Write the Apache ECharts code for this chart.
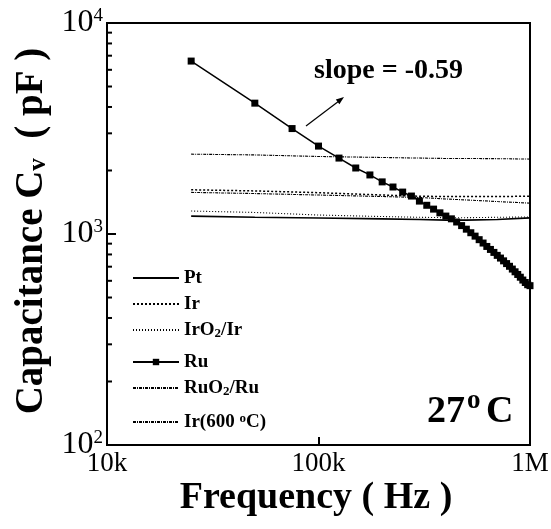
<!DOCTYPE html>
<html><head><meta charset="utf-8">
<script src="https://cdn.jsdelivr.net/npm/echarts/dist/echarts.min.js"></script>
<style>html,body{margin:0;padding:0;background:#fff}#c{width:551px;height:529px}</style>
</head><body><div id="c"></div>
<script>
// ---- data ----
const seriesNames = ['Pt', 'Ir', 'IrO2/Ir', 'Ru', 'RuO2/Ru', 'Ir(600 oC)'];
const flatFreq = [25000, 50000, 100000, 200000, 300000, 400000, 500000, 700000, 1000000];
const ptValues    = [1216, 1200, 1190, 1180, 1172, 1164, 1164, 1172, 1192];
const irValues    = [1620, 1600, 1570, 1530, 1510, 1505, 1505, 1505, 1510];
const iro2Values  = [1285, 1265, 1230, 1210, 1200, 1195, 1195, 1200, 1205];
const ruo2Values  = [1575, 1555, 1530, 1505, 1490, 1465, 1450, 1425, 1400];
const ir600Values = [2390, 2370, 2330, 2305, 2290, 2280, 2280, 2275, 2265];
const ruFreq = [25000, 50000, 75000, 100000, 125000, 150000, 175000, 200000, 225000, 250000,
  275000, 300000, 325000, 350000, 375000, 400000, 425000, 450000, 475000, 500000,
  525000, 550000, 575000, 600000, 625000, 650000, 675000, 700000, 725000, 750000,
  775000, 800000, 825000, 850000, 875000, 900000, 925000, 950000, 975000, 1000000];
const ruValues = [6600, 4170, 3160, 2610, 2290, 2055, 1905, 1766, 1670, 1580,
  1513, 1432, 1368, 1312, 1260, 1216, 1180, 1140, 1096, 1054,
  1014, 977, 940, 906, 873, 845, 818, 792, 769, 746,
  724, 703, 682, 662, 643, 624, 605, 589, 575, 569];
const xTickLabels = { 10000: '10k', 100000: '100k', 1000000: '1M' };
const yMinorTicks = [200, 300, 400, 500, 600, 700, 800, 900, 2000, 3000, 4000, 5000, 6000, 7000, 8000, 9000];
const legendLabels = {
  'Pt': 'Pt', 'Ir': 'Ir', 'IrO2/Ir': 'IrO{sub|2}/Ir', 'Ru': 'Ru',
  'RuO2/Ru': 'RuO{sub|2}/Ru', 'Ir(600 oC)': 'Ir(600 {sup|o}C)'
};
// ---- layout ----
const SERIF = 'Liberation Serif, Times New Roman, serif';
const legendRowY = [278, 304, 330, 362, 388, 422];

const chart = echarts.init(document.getElementById('c'), null, { renderer: 'canvas' });
const zip = (xs, ys) => xs.map((x, i) => [x, ys[i]]);
const lineSeries = (name, xs, ys, type, width) => ({
  name, type: 'line', data: zip(xs, ys), symbol: 'none', smooth: false,
  lineStyle: { color: '#000', width, type }, itemStyle: { color: '#000' }, z: 3
});

const richLegend = {
  sub: { fontFamily: SERIF, fontWeight: 'bold', fontSize: 13, verticalAlign: 'bottom', lineHeight: 6, color: '#000' },
  sup: { fontFamily: SERIF, fontWeight: 'bold', fontSize: 13, verticalAlign: 'top', lineHeight: 6, color: '#000' }
};

const option = {
  animation: false,
  backgroundColor: '#fff',
  grid: { left: 107, right: 21, top: 23, bottom: 84, show: true, borderColor: '#000', borderWidth: 2, containLabel: false, outerBoundsMode: 'none' },
  xAxis: {
    type: 'log', logBase: 10, min: 10000, max: 1000000,
    axisLine: { show: true, lineStyle: { color: '#000', width: 2 } },
    axisTick: { show: true, inside: true, length: 8, lineStyle: { color: '#000', width: 2 } },
    minorTick: { show: false }, splitLine: { show: false },
    axisLabel: { show: true, showMinLabel: true, showMaxLabel: true, margin: 5, color: '#000', fontFamily: SERIF, fontSize: 27,
      formatter: v => xTickLabels[Math.round(v)] || '' }
  },
  yAxis: {
    type: 'log', logBase: 10, min: 100, max: 10000,
    axisLine: { show: true, lineStyle: { color: '#000', width: 2 } },
    axisTick: { show: true, inside: true, length: 9, lineStyle: { color: '#000', width: 2 } },
    minorTick: { show: false }, splitLine: { show: false },
    axisLabel: { show: true, showMinLabel: true, showMaxLabel: true, margin: 4, color: '#000',
      formatter: v => '{b|10}{s|' + Math.round(Math.log10(v)) + '}',
      rich: {
        b: { fontFamily: SERIF, fontSize: 32, lineHeight: 32, color: '#000' },
        s: { fontFamily: SERIF, fontSize: 19, lineHeight: 22, verticalAlign: 'top', color: '#000' }
      } }
  },
  legend: seriesNames.map((n, i) => ({
    data: [n], orient: 'vertical', left: 132, top: legendRowY[i] - 10,
    itemWidth: 46, itemHeight: n === 'Ru' ? 8 : 14, itemGap: 0, padding: 0,
    itemStyle: n === 'Ru' ? {} : { opacity: 0 },
    textStyle: { fontFamily: SERIF, fontWeight: 'bold', fontSize: 19, lineHeight: 20, color: '#000', rich: richLegend },
    formatter: name => legendLabels[name]
  })),
  series: [
    lineSeries('Pt', flatFreq, ptValues, 'solid', 1.6),
    lineSeries('Ir', flatFreq, irValues, [2, 2], 1.5),
    lineSeries('IrO2/Ir', flatFreq, iro2Values, [1, 2], 1.1),
    {
      name: 'Ru', type: 'line', data: zip(ruFreq, ruValues), symbol: 'rect', symbolSize: 7, showAllSymbol: true,
      lineStyle: { color: '#000', width: 1.5 }, itemStyle: { color: '#000' }, z: 5
    },
    lineSeries('RuO2/Ru', flatFreq, ruo2Values, [3, 1, 1, 1], 1.1),
    lineSeries('Ir(600 oC)', flatFreq, ir600Values, [3, 1, 1, 1], 1.1),
    {
      type: 'custom', silent: true, z: 6,
      data: yMinorTicks.map(v => [10000, v]),
      renderItem: (params, api) => {
        const p = api.coord([api.value(0), api.value(1)]);
        return { type: 'line', shape: { x1: p[0], y1: p[1], x2: p[0] + 5, y2: p[1] }, style: { stroke: '#000', lineWidth: 2 } };
      }
    }
  ],
  graphic: [
    { type: 'text', x: 316, y: 498, style: { text: 'Frequency ( Hz )', fontFamily: SERIF, fontWeight: 'bold', fontSize: 38, fill: '#000', align: 'center', verticalAlign: 'middle' } },
    { type: 'text', x: 32, y: 231, rotation: Math.PI / 2, style: {
      text: '{m|Capacitance C}{sub|v}{m|  ( pF )}', align: 'center', verticalAlign: 'middle',
      rich: {
        m: { fontFamily: SERIF, fontWeight: 'bold', fontSize: 39, lineHeight: 39, fill: '#000' },
        sub: { fontFamily: SERIF, fontWeight: 'bold', fontSize: 25, lineHeight: 16, verticalAlign: 'bottom', fill: '#000' }
      } } },
    { type: 'text', x: 314, y: 71, style: { text: 'slope = -0.59', fontFamily: SERIF, fontWeight: 'bold', fontSize: 28, fill: '#000', align: 'left', verticalAlign: 'middle' } },
    { type: 'line', shape: { x1: 306, y1: 126, x2: 339, y2: 101 }, style: { stroke: '#000', lineWidth: 1.2 } },
    { type: 'polygon', shape: { points: [[344, 97], [339.4, 104.2], [335.8, 99.4]] }, style: { fill: '#000' } },
    { type: 'text', x: 427, y: 412, style: { text: '27', fontFamily: SERIF, fontWeight: 'bold', fontSize: 38, fill: '#000', align: 'left', verticalAlign: 'middle' } },
    { type: 'text', x: 467, y: 401, style: { text: 'o', fontFamily: SERIF, fontWeight: 'bold', fontSize: 27, fill: '#000', align: 'left', verticalAlign: 'middle' } },
    { type: 'text', x: 486, y: 412, style: { text: 'C', fontFamily: SERIF, fontWeight: 'bold', fontSize: 38, fill: '#000', align: 'left', verticalAlign: 'middle' } }
  ]
};
chart.setOption(option);
</script>
</body></html>
